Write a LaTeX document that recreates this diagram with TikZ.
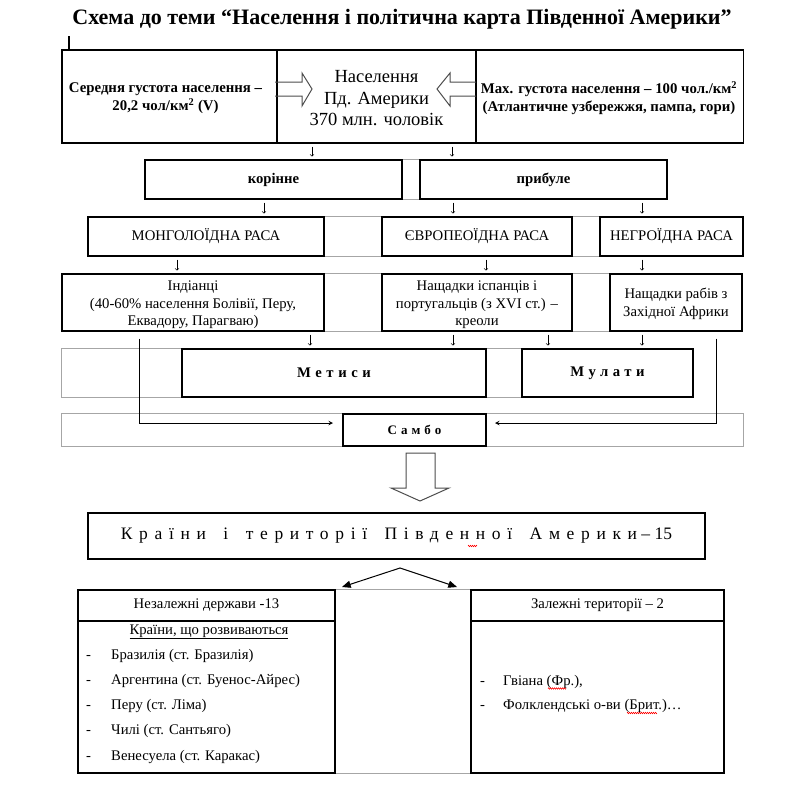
\documentclass[tikz,border=0pt]{standalone}
\usepackage{fontspec}
\setmainfont{Liberation Serif}
\usetikzlibrary{calc, fit, arrows, decorations.pathmorphing}
\pgfdeclarelayer{background}
\pgfsetlayers{background,main}
\tikzstyle{cell}   = [rectangle, draw=black, line width=1.2pt, inner sep=0pt, text centered, align=center, font=\normtxt]
\tikzstyle{band}   = [rectangle, draw=black!35, line width=1pt, inner sep=0pt]
\tikzstyle{down}   = [->, >=to, line width=0.6pt, shorten <=3pt, shorten >=3pt]
\tikzstyle{arrow}  = [line width=1pt, ->, >=stealth]
\tikzstyle{fat}    = [draw=black!70, line width=1pt, line join=miter]
\tikzstyle{item}   = [anchor=base west, inner sep=0pt, font=\normtxt]
\tikzstyle{inside} = [align=center, inner sep=0pt, font=\normtxt]
\tikzstyle{spell}  = [red, line width=0.5pt, decorate, decoration={zigzag, amplitude=0.7pt, segment length=2pt}]
\newcommand{\normtxt}{\fontsize{14.7}{17.5}\selectfont}
\newcommand{\bigtxt}{\fontsize{18.5}{21.5}\selectfont}
\newcommand{\denstxt}{\fontsize{14.8}{18}\selectfont\bfseries}
\newcommand{\spaced}[1]{{\addfontfeature{LetterSpace=31}#1}}
\newcommand{\wide}[1]{{\addfontfeature{LetterSpace=38}#1}}

\begin{document}
\begin{tikzpicture}[x=1pt, y=-1pt]
    \useasboundingbox (0,0) rectangle (800,796);
    \node (title) at (402,19) {\fontsize{22}{26}\selectfont\bfseries Схема до теми “Населення і політична карта Південної Америки”};
    \draw [line width=2pt] (69,36) -- (69,50);

    % population
    \node (dens) [cell, minimum width=215, minimum height=93] at (169.5,96.5) {};
    \node (pop)  [cell, minimum width=199, minimum height=93] at (376.5,96.5) {};
    \node (max)  [cell, minimum width=267, minimum height=93] at (610,96.5) {};
    \node (denst) [inside, font=\denstxt] at (165.5,98.5) {Середня густота населення –\\ 20,2 чол/км\textsuperscript{2} (V)};
    \node (popt)  [inside, font=\bigtxt] at (376.5,98.5) {Населення\\ Пд. Америки\\ 370 млн. чоловік};
    \node (maxt)  [inside, font=\denstxt] at (609,98.5) {Max. густота населення – 100 чол./км\textsuperscript{2}\\ (Атлантичне узбережжя, пампа, гори)};
    \draw [fat] (275,82) -- (302,82) -- (302,73) -- (312,89) -- (302,106) -- (302,96) -- (275,96);
    \draw [fat] (476,82) -- (450,82) -- (450,73) -- (437,89) -- (450,106) -- (450,96) -- (476,96);

    % origin
    \node (kor) [cell, minimum width=257, minimum height=39] at (273.5,179.5) {\bfseries корінне};
    \node (pry) [cell, minimum width=247, minimum height=39] at (543.5,179.5) {\bfseries прибуле};

    % races
    \node (mon) [cell, minimum width=236, minimum height=39] at (206,236.5) {МОНГОЛОЇДНА РАСА};
    \node (eur) [cell, minimum width=190, minimum height=39] at (477,236.5) {ЄВРОПЕОЇДНА РАСА};
    \node (neg) [cell, minimum width=143, minimum height=39] at (671.5,236.5) {НЕГРОЇДНА РАСА};

    \node (ind) [cell, minimum width=262, minimum height=57] at (193,302.5) {};
    \node (cre) [cell, minimum width=190, minimum height=57] at (477,302.5) {};
    \node (slv) [cell, minimum width=132, minimum height=57] at (676,302.5) {};
    \node (indt) [inside] at (193,305) {Індіанці\\ (40-60\% населення Болівії, Перу,\\ Еквадору, Парагваю)};
    \node (cret) [inside] at (477,305) {Нащадки іспанців і\\ португальців (з XVI ст.) –\\ креоли};
    \node (slvt) [inside] at (676,304) {Нащадки рабів з\\ Західної Африки};

    % mixed
    \node (met) [cell, minimum width=304, minimum height=48] at (334,373) {\bfseries\spaced{Метиси}};
    \node (mul) [cell, minimum width=171, minimum height=48] at (607.5,373) {\bfseries\spaced{Мулати}};
    \node (sam) [cell, font=\fontsize{13}{16}\selectfont, minimum width=143, minimum height=32] at (414.5,430) {\bfseries\spaced{Самбо}};

    \draw [down] (312,0 |- pop.south) -- (312,0 |- kor.north);
    \draw [down] (452,0 |- pop.south) -- (452,0 |- pry.north);
    \draw [down] (264,0 |- kor.south) -- (264,0 |- mon.north);
    \draw [down] (453,0 |- pry.south) -- (453,0 |- eur.north);
    \draw [down] (642,0 |- pry.south) -- (642,0 |- neg.north);
    \draw [down] (177,0 |- mon.south) -- (177,0 |- ind.north);
    \draw [down] (486,0 |- eur.south) -- (486,0 |- cre.north);
    \draw [down] (642,0 |- neg.south) -- (642,0 |- slv.north);
    \draw [down] (310,0 |- ind.south) -- (310,0 |- met.north);
    \draw [down] (453,0 |- cre.south) -- (453,0 |- met.north);
    \draw [down] (548,0 |- cre.south) -- (548,0 |- mul.north);
    \draw [down] (642,0 |- slv.south) -- (642,0 |- mul.north);

    \coordinate (sl) at (333,423);
    \coordinate (sr) at (495,423);
    \draw [arrow, shorten <=7pt] (139.5,0 |- ind.south) |- (sl);
    \draw [arrow, shorten <=7pt] (716,0 |- slv.south) |- (sr);

    % countries
    \draw [fat] (406,453) -- (435,453) -- (435,488) -- (449,488) -- (420,501) -- (391,488) -- (406,488) -- cycle;
    \node (cnt) [cell, font=\fontsize{17.5}{21}\selectfont, minimum width=617, minimum height=46] at (396.5,536) {\wide{Країни}\quad\wide{і}\quad\wide{території}\quad\wide{Південної}\quad\wide{Америки} – 15};
    \draw [spell] (468,546) -- (477,546);

    \coordinate (split) at (400,568);
    \coordinate (tl) at (342,587);
    \coordinate (tr) at (457,587);
    \draw [arrow, <->, >=triangle 45] (tl) -- (split) -- (tr);

    \node (nzh) [cell, minimum width=257, minimum height=31] at (206.5,605.5) {Незалежні держави -13};
    \node (nzb) [cell, minimum width=257, minimum height=152] at (206.5,697) {};
    \node (zh)  [cell, minimum width=253, minimum height=31] at (597.5,605.5) {Залежні території – 2};
    \node (zb)  [cell, minimum width=253, minimum height=152] at (597.5,697) {};

    \node (dev) [anchor=base, inner sep=0pt, font=\normtxt] at (209,634) {\underline{Країни, що розвиваються}};
    \foreach \name [count=\i] in {Бразилія (ст. Бразилія), Аргентина (ст. Буенос-Айрес), Перу (ст. Ліма), Чилі (ст. Сантьяго), Венесуела (ст. Каракас)} {
        \node (d\i) [item] at (86,634+25.2*\i) {-};
        \node (c\i) [item] at (111,634+25.2*\i) {\name};
    }
    \node (e1) [item] at (480,685) {-};
    \node (t1) [item] at (503,685) {Гвіана (Фр.),};
    \node (e2) [item] at (480,709.5) {-};
    \node (t2) [item] at (503,709.5) {Фолклендські о-ви (Брит.)…};
    \draw [spell] (548,688.5) -- (566,688.5);
    \draw [spell] (627,713) -- (657,713);

    \begin{pgfonlayer}{background}
      \node [band, fit={(kor) (pry)}] {};
      \node [band, fit={(mon) (neg)}] {};
      \node [band, fit={(ind) (slv)}] {};
      \node [band, fit={(met) (mul) (ind.west |- met.north)}] {};
      \node [band, fit={(sam) (ind.west |- sam.north) (743,0 |- sam.south)}] {};
      \node [band, fit={(nzh) (zb)}] {};
    \end{pgfonlayer}

\end{tikzpicture}
\end{document}
